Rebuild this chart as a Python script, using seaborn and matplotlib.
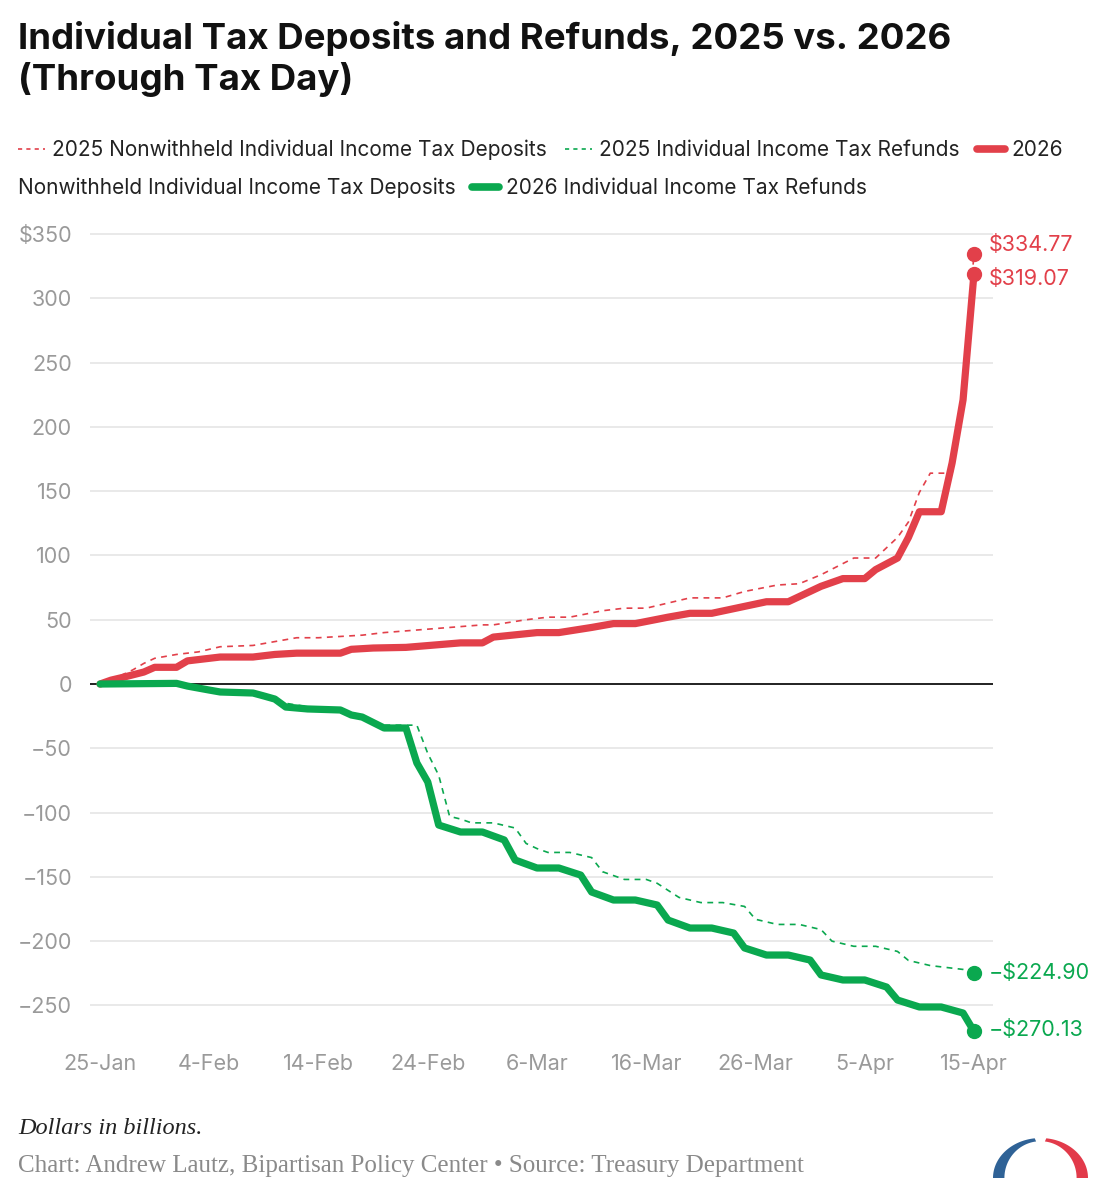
import numpy as np
import pandas as pd
import seaborn as sns
import matplotlib.pyplot as plt
from matplotlib.lines import Line2D

# days counted from 25-Jan, values in billions of dollars
dep25_day = [0, 1, 3, 4, 5, 7, 9, 11, 14, 16, 18, 20, 22, 24, 26, 29, 32, 35, 36, 39, 41, 43,
             46, 48, 50, 53, 54, 57, 59, 62, 64, 66, 69, 71, 73, 74, 75, 76, 78, 79, 80]
dep25_val = [0, 3, 11, 16, 20, 23, 25, 29, 30, 33, 36, 36, 37, 38, 40, 42, 44, 46, 46, 50, 52, 52,
             57, 59, 59, 65, 67, 67, 72, 77, 78, 85, 98, 98, 114, 126, 149, 164, 164, 225, 334.77]

ref25_day = [0, 8, 10, 13, 15, 17, 20, 22, 24, 25, 26, 29, 30, 31, 32, 33, 34, 36, 38, 39, 40, 41,
             43, 45, 46, 47, 48, 50, 51, 53, 55, 57, 59, 60, 62, 64, 66, 67, 69, 71, 73, 74, 76, 78,
             79, 80]
ref25_val = [0, -1, -4, -6, -8, -15, -19, -21, -24, -30, -32, -32, -54, -71, -103, -105, -108, -108,
             -112, -124, -128, -131, -131, -135, -146, -149, -152, -152, -155, -166, -170, -170, -173,
             -183, -187, -187, -191, -200, -204, -204, -208, -215, -219, -221, -222, -224.90]

dep26_day = [0, 1, 2, 4, 5, 7, 8, 11, 14, 16, 18, 22, 23, 25, 28, 33, 35, 36, 40, 42, 45, 47, 49,
             52, 54, 56, 61, 63, 64, 66, 68, 70, 71, 73, 74, 75, 77, 78, 79, 80]
dep26_val = [0, 3, 5, 9.3, 13, 13, 18, 21, 21, 23, 24, 24, 27, 28, 28.5, 32, 32, 36.5, 40, 40,
             44, 47, 47, 52, 55, 55, 64, 64, 68, 76, 82, 82, 89, 98, 114, 134, 134, 172, 221, 319.07]

ref26_day = [0, 7, 8, 10, 11, 14, 15, 16, 17, 19, 22, 23, 24, 26, 28, 29, 30, 31, 33, 35, 37, 38,
             40, 42, 44, 45, 47, 49, 51, 52, 54, 56, 58, 59, 61, 63, 65, 66, 68, 70, 72, 73, 75, 77,
             79, 80]
ref26_val = [0, 0.5, -1.6, -4.7, -6.2, -7, -9.3, -11.7, -17.9, -19.4, -20.2, -24.1, -25.7, -34.2,
             -34.2, -61.4, -76.2, -109.7, -115.1, -115.1, -121.3, -136.9, -143.1, -143.1, -148.6,
             -161.8, -168, -168, -171.9, -183.6, -189.8, -189.8, -193.7, -205.3, -210.8, -210.8,
             -214.7, -226.3, -230.2, -230.2, -235.7, -245.8, -251.2, -251.2, -255.9, -270.13]

tick_days = [0, 10, 20, 30, 40, 50, 60, 70, 80]
tick_labels = ['25-Jan', '4-Feb', '14-Feb', '24-Feb', '6-Mar', '16-Mar', '26-Mar', '5-Apr', '15-Apr']
y_ticks = [-250, -200, -150, -100, -50, 0, 50, 100, 150, 200, 250, 300, 350]
y_labels = ['\u2212250', '\u2212200', '\u2212150', '\u2212100', '\u221250', '0', '50', '100', '150',
            '200', '250', '300', '$350']

end_labels = ['$334.77', '$319.07', '\u2212$224.90', '\u2212$270.13']

RED = '#e2404a'
GREEN = '#0aa84f'

sns.set_theme(style='white')
plt.rcParams['font.family'] = ['Inter', 'DejaVu Sans']

fig = plt.figure(figsize=(11.07, 12), dpi=100)
ax = fig.add_axes([0.0813, 0.13, 0.8157, 0.677])

df_dep25 = pd.DataFrame({'day': dep25_day, 'val': dep25_val})
df_ref25 = pd.DataFrame({'day': ref25_day, 'val': ref25_val})
df_dep26 = pd.DataFrame({'day': dep26_day, 'val': dep26_val})
df_ref26 = pd.DataFrame({'day': ref26_day, 'val': ref26_val})

ax.axhline(0, color='#222222', lw=1.4, zorder=2)

dash = dict(lw=1.2, dashes=(3.5, 3.2))
sns.lineplot(data=df_dep25, x='day', y='val', ax=ax, color=RED, zorder=3, **dash)
sns.lineplot(data=df_ref25, x='day', y='val', ax=ax, color=GREEN, zorder=3, **dash)
sns.lineplot(data=df_dep26, x='day', y='val', ax=ax, color=RED, lw=5.2, zorder=4,
             solid_joinstyle='round', solid_capstyle='round')
sns.lineplot(data=df_ref26, x='day', y='val', ax=ax, color=GREEN, lw=5.2, zorder=4,
             solid_joinstyle='round', solid_capstyle='round')

# end points and labels
ends = [(dep25_day[-1], dep25_val[-1], RED, 6),
        (dep26_day[-1], dep26_val[-1], RED, -4),
        (ref25_day[-1], ref25_val[-1], GREEN, 0),
        (ref26_day[-1], ref26_val[-1], GREEN, 1)]
for (d, v, c, dy), lab in zip(ends, end_labels):
    ax.plot([d], [v], 'o', color=c, ms=10, zorder=5)
    ax.annotate(lab, (d, v), xytext=(11, dy), textcoords='offset points',
                va='center', ha='left', color=c, fontsize=15.5, annotation_clip=False)

ax.set_xlim(-0.92, 81.74)
ax.set_ylim(-280, 351.9)
ax.set_xticks(tick_days)
ax.set_xticklabels(tick_labels)
ax.set_yticks(y_ticks)
ax.set_yticklabels(y_labels)
ax.tick_params(axis='both', length=0, labelsize=15.5, labelcolor='#9a9a9a')
ax.tick_params(axis='y', pad=13)
ax.tick_params(axis='x', pad=7)
ax.grid(axis='y', color='#e3e3e3', lw=1.1)
ax.set_xlabel('')
ax.set_ylabel('')
for s in ax.spines.values():
    s.set_visible(False)

# title
fig.text(18 / 1107, 1 - 21 / 1200,
         'Individual Tax Deposits and Refunds, 2025 vs. 2026\n(Through Tax Day)',
         ha='left', va='top', fontsize=26.4, fontweight='bold', color='#111111',
         linespacing=1.22)

# legend, wrapped like the original
h_d25 = Line2D([], [], color=RED, lw=1.2, dashes=(2.5, 2.5))
h_r25 = Line2D([], [], color=GREEN, lw=1.2, dashes=(2.5, 2.5))
h_d26 = Line2D([], [], color=RED, lw=5.5, solid_capstyle='round')
h_r26 = Line2D([], [], color=GREEN, lw=5.5, solid_capstyle='round')
leg_kw = dict(frameon=False, fontsize=15, handlelength=1.3, handletextpad=0.35,
              columnspacing=0.85, borderpad=0, borderaxespad=0, labelcolor='#222222')
fig.legend([h_d25, h_r25, h_d26],
           ['2025 Nonwithheld Individual Income Tax Deposits',
            '2025 Individual Income Tax Refunds', '2026'],
           loc='center left', bbox_to_anchor=(18 / 1107, 1 - 150 / 1200), ncol=3, **leg_kw)
t2 = fig.text(18 / 1107, 1 - 188 / 1200, 'Nonwithheld Individual Income Tax Deposits',
              ha='left', va='center', fontsize=15, color='#222222')
fig.canvas.draw()
bb = t2.get_window_extent()
x2 = (bb.x1 + 16) / fig.bbox.width
fig.legend([h_r26], ['2026 Individual Income Tax Refunds'], loc='center left',
           bbox_to_anchor=(x2, 1 - 188 / 1200), **leg_kw)

# footer
fig.text(18 / 1107, 1 - 1128 / 1200, 'Dollars in billions.', ha='left', va='center',
         fontsize=17.5, style='italic', family='Liberation Serif', color='#222222')
fig.text(18 / 1107, 1 - 1166 / 1200,
         'Chart: Andrew Lautz, Bipartisan Policy Center \u2022 Source: Treasury Department',
         ha='left', va='center', fontsize=18, family='Liberation Serif', color='#8a8a8a')

# logo arch: tapered elliptical band, blue on the left, red on the right
lax = fig.add_axes([993 / 1107, 1 - 1178 / 1200, 95 / 1107, 40 / 1200])
t_l = np.linspace(np.radians(97), np.pi, 40)
t_r = np.linspace(0, np.radians(83), 40)
for t, col in [(t_l, '#2f6296'), (t_r, '#e23a4a')]:
    xo, yo = 0.5 + 0.5 * np.cos(t), np.sin(t)
    xi, yi = 0.5 + 0.38 * np.cos(t), 0.92 * np.sin(t)
    lax.fill(np.r_[xo, xi[::-1]], np.r_[yo, yi[::-1]], color=col, lw=0)
lax.set_xlim(0, 1)
lax.set_ylim(0, 1)
lax.axis('off')

fig.savefig('out.png', dpi=100)
